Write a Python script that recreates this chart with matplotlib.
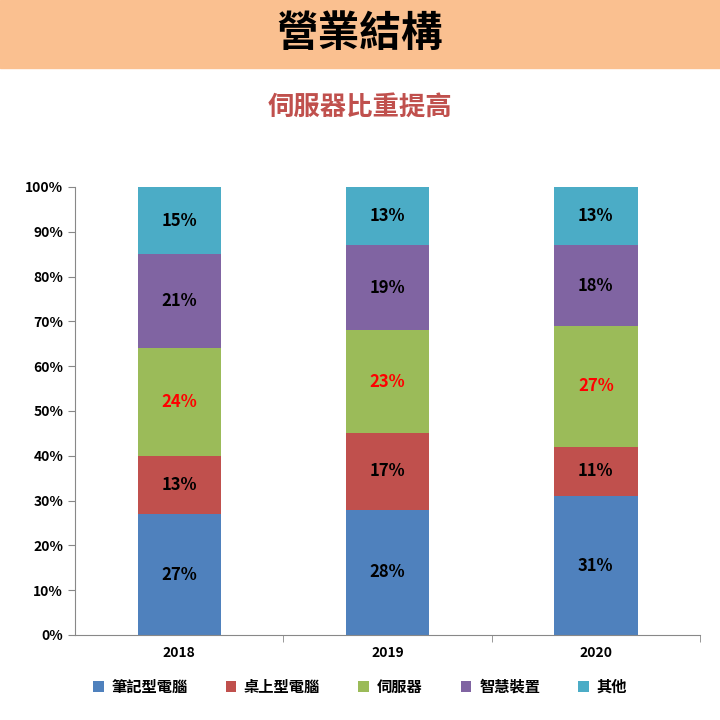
import matplotlib.pyplot as plt
import numpy as np

plt.rcParams['font.family'] = 'Noto Sans CJK TC'

years = ['2018', '2019', '2020']
series = ['筆記型電腦', '桌上型電腦', '伺服器', '智慧裝置', '其他']
notebook = [27, 28, 31]
desktop = [13, 17, 11]
server = [24, 23, 27]
smart = [21, 19, 18]
other = [15, 13, 13]
colors = ['#4F81BD', '#C0504D', '#9BBB59', '#8064A2', '#4BACC6']

fig = plt.figure(figsize=(7.2, 7.2), dpi=100)
fig.patches.append(plt.Rectangle((0, 1 - 68 / 720), 1, 68 / 720, transform=fig.transFigure,
                                 color='#FAC090', zorder=0))
fig.text(0.5, 1 - 34 / 720, '營業結構', ha='center', va='center', fontsize=30, fontweight='bold')
fig.text(0.5, 1 - 107 / 720, '伺服器比重提高', ha='center', va='center', fontsize=19,
         fontweight='bold', color='#C0504D')

ax = fig.add_axes([75 / 720, 85 / 720, 625 / 720, 448 / 720])
x = np.arange(len(years))
bottom = np.zeros(len(years))
for i, (name, vals) in enumerate(zip(series, [notebook, desktop, server, smart, other])):
    vals = np.array(vals)
    ax.bar(x, vals, 0.4, bottom=bottom, color=colors[i], label=name)
    for xi, b, v in zip(x, bottom, vals):
        ax.text(xi, b + v / 2, f'{v}%', ha='center', va='center', fontsize=12, fontweight='bold',
                color='#FF0000' if name == '伺服器' else 'black')
    bottom += vals

ax.set_xlim(-0.5, 2.5)
ax.set_ylim(0, 100)
ax.set_yticks(range(0, 101, 10))
ax.set_yticklabels([f'{v}%' for v in range(0, 101, 10)], fontsize=10, fontweight='bold')
ax.set_xticks(x)
ax.set_xticklabels(years, fontsize=10, fontweight='bold')
ax.set_xticks([0.5, 1.5, 2.5], minor=True)
ax.tick_params(axis='x', which='major', length=0, pad=8)
ax.tick_params(axis='x', which='minor', length=5, color='#888888')
ax.tick_params(axis='y', length=5, color='#888888')
for s in ['top', 'right']:
    ax.spines[s].set_visible(False)
for s in ['left', 'bottom']:
    ax.spines[s].set_color('#888888')

fig.legend(loc='center', bbox_to_anchor=(0.5, 1 - 687 / 720), ncol=5, frameon=False,
           prop={'size': 11, 'weight': 'bold'}, handlelength=0.7, handleheight=0.7,
           columnspacing=2.5, handletextpad=0.5)

fig.savefig('out.png', dpi=100)
